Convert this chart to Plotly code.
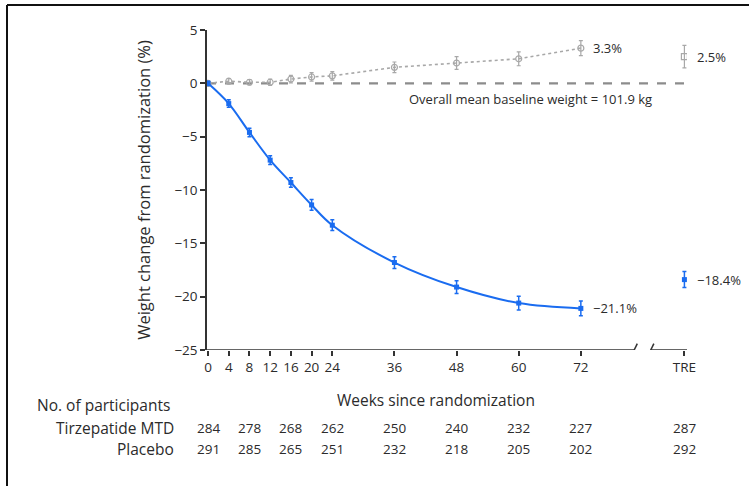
import plotly.graph_objects as go

weeks = [0, 4, 8, 12, 16, 20, 24, 36, 48, 60, 72]
tre_pos = 92
tirz = [0, -1.9, -4.6, -7.2, -9.3, -11.4, -13.3, -16.8, -19.1, -20.6, -21.1]
tirz_err = [0.2, 0.35, 0.4, 0.4, 0.45, 0.5, 0.5, 0.55, 0.6, 0.65, 0.7]
plac = [0, 0.2, 0.1, 0.1, 0.4, 0.6, 0.7, 1.5, 1.9, 2.3, 3.3]
plac_err = [0.1, 0.25, 0.25, 0.3, 0.35, 0.4, 0.4, 0.5, 0.6, 0.65, 0.7]
tirz_tre, tirz_tre_err = -18.4, 0.75
plac_tre, plac_tre_err = 2.5, 1.05

tick_vals = [0, 4, 8, 12, 16, 20, 24, 36, 48, 60, 72, 92]
tick_text = ["0", "4", "8", "12", "16", "20", "24", "36", "48", "60", "72", "TRE"]
n_pos = [0, 8, 16, 24, 36, 48, 60, 72, 92]
n_tirz = [284, 278, 268, 262, 250, 240, 232, 227, 287]
n_plac = [291, 285, 265, 251, 232, 218, 205, 202, 292]

BLUE = "#1a6cf0"
GRAY = "#a8a8a8"
TXT = "#2b2b2b"
FONT = "Open Sans"

fig = go.Figure()
fig.add_shape(type="line", xref="x", yref="y", x0=-0.2, x1=92, y0=0, y1=0,
              line=dict(color="#8c8c8c", width=2.2, dash="dash"), layer="below")

fig.add_trace(go.Scatter(x=weeks, y=plac, mode="lines+markers",
                         line=dict(color=GRAY, width=1.6, dash="dot"),
                         marker=dict(symbol="circle-open", size=6, color=GRAY, line=dict(width=1.2)),
                         error_y=dict(type="data", array=plac_err, color=GRAY, thickness=1.2, width=2),
                         showlegend=False))
fig.add_trace(go.Scatter(x=[tre_pos], y=[plac_tre], mode="markers",
                         marker=dict(symbol="square-open", size=6, color=GRAY, line=dict(width=1.2)),
                         error_y=dict(type="data", array=[plac_tre_err], color=GRAY, thickness=1.2, width=2),
                         showlegend=False))
fig.add_trace(go.Scatter(x=weeks, y=tirz, mode="lines+markers",
                         line=dict(color=BLUE, width=2, shape="spline"),
                         marker=dict(symbol="square", size=5, color=BLUE),
                         error_y=dict(type="data", array=tirz_err, color=BLUE, thickness=1.5, width=2),
                         showlegend=False))
fig.add_trace(go.Scatter(x=[tre_pos], y=[tirz_tre], mode="markers",
                         marker=dict(symbol="square", size=5, color=BLUE),
                         error_y=dict(type="data", array=[tirz_tre_err], color=BLUE, thickness=1.5, width=2),
                         showlegend=False))

# broken x-axis line
ax = dict(color="#333333", width=1.5)
fig.add_shape(type="line", xref="x", yref="y", x0=-0.2, x1=82.3, y0=-25, y1=-25, line=ax)
fig.add_shape(type="line", xref="x", yref="y", x0=85.5, x1=92.5, y0=-25, y1=-25, line=ax)
for xb in (82.3, 85.5):
    fig.add_shape(type="line", xref="x", yref="y", x0=xb - 0.6, x1=xb + 0.6, y0=-25.6, y1=-24.4, line=ax)

ann = []
ann.append(dict(x=weeks[-1], y=plac[-1], text=f"{plac[-1]}%", xshift=10))
ann.append(dict(x=tre_pos, y=plac_tre, text=f"{plac_tre}%", xshift=11))
ann.append(dict(x=weeks[-1], y=tirz[-1], text=f"\u2212{abs(tirz[-1])}%", xshift=10))
ann.append(dict(x=tre_pos, y=tirz_tre, text=f"\u2212{abs(tirz_tre)}%", xshift=11))
ann.append(dict(x=38.5, y=-1.5, text="Overall mean baseline weight = 101.9 kg"))
for a in ann:
    a.update(xref="x", yref="y", showarrow=False, xanchor="left", yanchor="middle",
             font=dict(size=13, color=TXT, family=FONT))

def py(p):
    return (350 - p) / 320

LBL = dict(size=15.5, color=TXT, family=FONT)
ann.append(dict(x=44, y=py(400), xref="x", yref="paper", text="Weeks since randomization",
                showarrow=False, xanchor="center", yanchor="middle", font=LBL))
ann.append(dict(x=(35 - 207) / 480, y=py(405), xref="paper", yref="paper", text="No. of participants",
                showarrow=False, xanchor="left", yanchor="middle", font=LBL))
ann.append(dict(x=(176 - 207) / 480, y=py(428), xref="paper", yref="paper", text="Tirzepatide MTD",
                showarrow=False, xanchor="right", yanchor="middle", font=LBL))
ann.append(dict(x=(176 - 207) / 480, y=py(449), xref="paper", yref="paper", text="Placebo",
                showarrow=False, xanchor="right", yanchor="middle", font=LBL))
for xp, a_, b_ in zip(n_pos, n_tirz, n_plac):
    ann.append(dict(x=xp, y=py(428), xref="x", yref="paper", text=str(a_), showarrow=False,
                    xanchor="center", yanchor="middle", font=dict(size=13.5, color=TXT, family=FONT)))
    ann.append(dict(x=xp, y=py(449), xref="x", yref="paper", text=str(b_), showarrow=False,
                    xanchor="center", yanchor="middle", font=dict(size=13.5, color=TXT, family=FONT)))

# figure border (top and left)
fig.add_shape(type="line", xref="paper", yref="paper", x0=(7 - 207) / 480, x1=(750 - 207) / 480,
              y0=py(5), y1=py(5), line=dict(color="#111111", width=2))
fig.add_shape(type="line", xref="paper", yref="paper", x0=(7 - 207) / 480, x1=(7 - 207) / 480,
              y0=py(5), y1=py(490), line=dict(color="#111111", width=2))

fig.update_layout(
    width=749, height=486,
    margin=dict(l=207, r=62, t=30, b=136),
    paper_bgcolor="white", plot_bgcolor="white",
    font=dict(family=FONT, size=13, color=TXT),
    annotations=ann,
    xaxis=dict(range=[-0.2, 92.5], tickvals=tick_vals, ticktext=tick_text, showgrid=False,
               zeroline=False, showline=False, ticks="outside", ticklen=5, tickwidth=1.5,
               tickcolor="#333333", tickfont=dict(size=13.5, color=TXT, family=FONT)),
    yaxis=dict(range=[-25, 5], tickvals=[5, 0, -5, -10, -15, -20, -25],
               ticktext=["5", "0", "\u22125", "\u221210", "\u221215", "\u221220", "\u221225"],
               showgrid=False, zeroline=False, showline=True, linecolor="#333333", linewidth=1.5,
               ticks="outside", ticklen=5, tickwidth=1.5, tickcolor="#333333",
               tickfont=dict(size=13.5, color=TXT, family=FONT),
               title=dict(text="Weight change from randomization (%)", standoff=20,
                          font=dict(size=16.5, color=TXT, family=FONT))),
)

fig.write_html("out.html", config={"displayModeBar": False},
               post_script="document.body.style.margin='0';")
